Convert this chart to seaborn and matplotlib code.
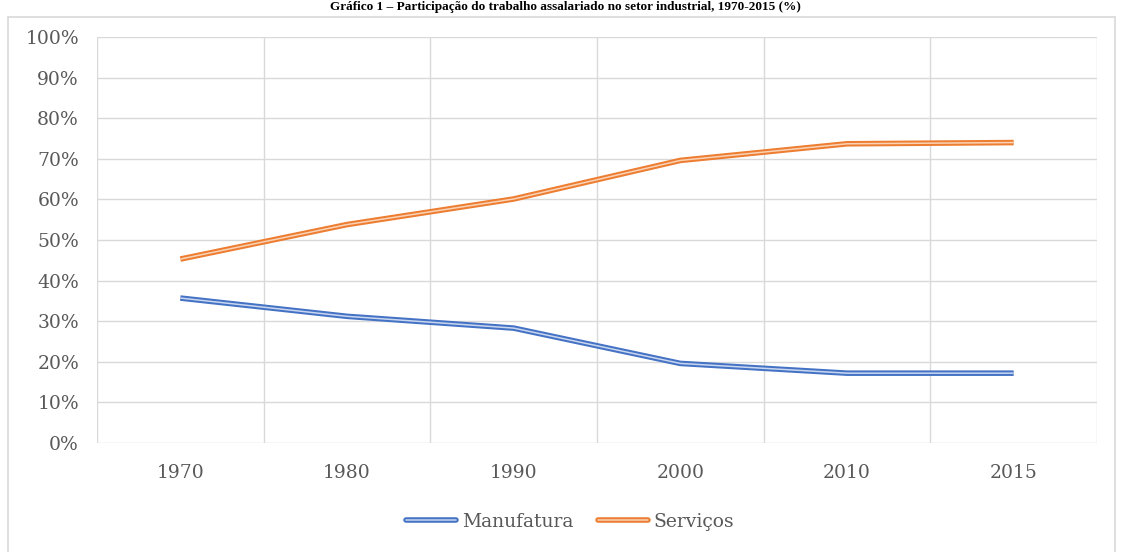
import numpy as np
import pandas as pd
import matplotlib
matplotlib.use("Agg")
import matplotlib.pyplot as plt
import matplotlib.patheffects as pe
from matplotlib.lines import Line2D
from matplotlib.patches import Rectangle
from matplotlib.ticker import PercentFormatter, FixedLocator
import seaborn as sns

# Share of employment by sector (fraction of total)
years = ["1970", "1980", "1990", "2000", "2010", "2015"]
manufatura = [0.357, 0.312, 0.283, 0.196, 0.172, 0.172]
servicos = [0.453, 0.538, 0.601, 0.696, 0.737, 0.740]
series_names = ["Manufatura", "Serviços"]
title_text = "Gráfico 1 – Participação do trabalho assalariado no setor industrial, 1970-2015 (%)"

sns.set_theme(style="white")
plt.rcParams["font.family"] = ["DejaVu Serif", "Liberation Serif"]

df = pd.DataFrame({
    "pos": list(range(len(years))) * 2,
    "valor": manufatura + servicos,
    "setor": [series_names[0]] * len(years) + [series_names[1]] * len(years),
})

W, H = 1124, 552
fig = plt.figure(figsize=(W / 100, H / 100), dpi=100)
fig.patch.set_facecolor("white")
ax = fig.add_axes([97 / W, 1 - 443 / H, 1000 / W, 406 / H])

outer = {"Manufatura": "#4472C4", "Serviços": "#ED7D31"}
inner = {"Manufatura": "#C9D6F0", "Serviços": "#FAD3B6"}

sns.lineplot(data=df, x="pos", y="valor", hue="setor", palette=inner,
             linewidth=1.1, ax=ax, legend=False, sort=False)
for line, name in zip(ax.get_lines(), series_names):
    line.set_path_effects([pe.Stroke(linewidth=4.0, foreground=outer[name]), pe.Normal()])
    line.set_solid_joinstyle("round")
    line.set_solid_capstyle("butt")

grid_c = "#D9D9D9"
txt_c = "#595959"
fs = 13.5
ax.set_xlim(-0.5, len(years) - 0.5)
ax.set_ylim(0, 1)
ax.set_xticks(range(len(years)))
ax.set_xticklabels(years)
ax.xaxis.set_minor_locator(FixedLocator(np.arange(-0.5, len(years), 1.0)))
ax.set_yticks(np.linspace(0, 1, 11))
ax.yaxis.set_major_formatter(PercentFormatter(1.0, decimals=0))
ax.grid(False)
ax.grid(True, axis="y", which="major", color=grid_c, linewidth=1.0)
ax.grid(True, axis="x", which="minor", color=grid_c, linewidth=1.0)
ax.set_axisbelow(True)
for s in ax.spines.values():
    s.set_visible(False)
ax.set_xlabel("")
ax.set_ylabel("")
ax.tick_params(axis="x", which="both", length=0, pad=15, labelsize=fs, labelcolor=txt_c)
ax.tick_params(axis="y", which="both", length=0, pad=13, labelsize=fs, labelcolor=txt_c)

handles = []
for name in series_names:
    h = Line2D([0], [0], color=inner[name], linewidth=1.1,
               path_effects=[pe.Stroke(linewidth=4.0, foreground=outer[name]), pe.Normal()])
    handles.append(h)
fig.legend(handles, series_names, loc="center", bbox_to_anchor=(570 / W, 1 - 522 / H),
           ncol=2, frameon=False, fontsize=fs, labelcolor=txt_c,
           handlelength=2.7, handletextpad=0.3, columnspacing=1.3)

# chart frame and heading
fig.patches.append(Rectangle((8 / W, -0.02), (1115 - 8) / W, 1.02 - 17 / H,
                             transform=fig.transFigure, fill=False,
                             edgecolor="#D9D9D9", linewidth=1.2))
fig.text(565 / W, 1 - 1 / H, title_text, ha="center", va="top",
         fontsize=9.5, fontweight="bold", color="black",
         family=["Liberation Serif", "DejaVu Serif"])

fig.savefig("out.png", dpi=100, facecolor="white")
